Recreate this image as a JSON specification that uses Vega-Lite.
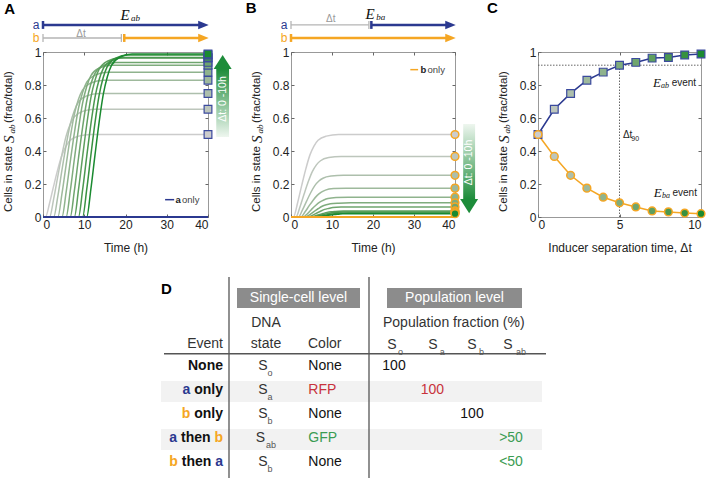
{
"$schema": "https://vega.github.io/schema/vega-lite/v6.json",
"padding": {"left": 1, "top": 0, "right": 0, "bottom": 0},
"background": "white",
"config": {
  "font": "Liberation Sans",
  "view": {"stroke": null},
  "axis": {"grid": false, "domain": false, "labelFont": "Liberation Sans", "labelFontSize": 12, "labelColor": "#222", "labelOverlap": false, "tickCount": 12, "titleFont": "Liberation Sans", "titleFontSize": 12, "titleFontWeight": "normal", "titleColor": "#222", "tickColor": "#666", "tickSize": -3, "labelPadding": 5, "titlePadding": 12},
  "text": {"font": "Liberation Sans"}
},
"datasets": {
  "curvesA": [
    {"dt":0,"x":0,"y":0},{"dt":0,"x":0.6,"y":0},{"dt":0,"x":1.6,"y":0.085},{"dt":0,"x":2.6,"y":0.19},{"dt":0,"x":3.6,"y":0.29},{"dt":0,"x":4.6,"y":0.375},{"dt":0,"x":5.6,"y":0.43},{"dt":0,"x":6.6,"y":0.465},{"dt":0,"x":8.6,"y":0.49},{"dt":0,"x":11.6,"y":0.5},{"dt":0,"x":40,"y":0.5},
    {"dt":1,"x":0,"y":0},{"dt":1,"x":1.6,"y":0},{"dt":1,"x":2.6,"y":0.111},{"dt":1,"x":3.6,"y":0.248},{"dt":1,"x":4.6,"y":0.379},{"dt":1,"x":5.6,"y":0.49},{"dt":1,"x":6.6,"y":0.562},{"dt":1,"x":7.6,"y":0.607},{"dt":1,"x":9.6,"y":0.64},{"dt":1,"x":12.6,"y":0.653},{"dt":1,"x":40,"y":0.653},
    {"dt":2,"x":0,"y":0},{"dt":2,"x":2.6,"y":0},{"dt":2,"x":3.6,"y":0.127},{"dt":2,"x":4.6,"y":0.285},{"dt":2,"x":5.6,"y":0.434},{"dt":2,"x":6.6,"y":0.562},{"dt":2,"x":7.6,"y":0.644},{"dt":2,"x":8.6,"y":0.697},{"dt":2,"x":10.6,"y":0.734},{"dt":2,"x":13.6,"y":0.749},{"dt":2,"x":40,"y":0.749},
    {"dt":3,"x":0,"y":0},{"dt":3,"x":3.6,"y":0},{"dt":3,"x":4.6,"y":0.141},{"dt":3,"x":5.6,"y":0.315},{"dt":3,"x":6.6,"y":0.481},{"dt":3,"x":7.6,"y":0.622},{"dt":3,"x":8.6,"y":0.713},{"dt":3,"x":9.6,"y":0.771},{"dt":3,"x":11.6,"y":0.812},{"dt":3,"x":14.6,"y":0.829},{"dt":3,"x":40,"y":0.829},
    {"dt":4,"x":0,"y":0},{"dt":4,"x":4.6,"y":0},{"dt":4,"x":5.6,"y":0.149},{"dt":4,"x":6.6,"y":0.334},{"dt":4,"x":7.6,"y":0.509},{"dt":4,"x":8.6,"y":0.659},{"dt":4,"x":9.6,"y":0.755},{"dt":4,"x":10.6,"y":0.817},{"dt":4,"x":12.6,"y":0.86},{"dt":4,"x":15.6,"y":0.878},{"dt":4,"x":40,"y":0.878},
    {"dt":5,"x":0,"y":0},{"dt":5,"x":5.6,"y":0},{"dt":5,"x":6.6,"y":0.156},{"dt":5,"x":7.6,"y":0.35},{"dt":5,"x":8.6,"y":0.534},{"dt":5,"x":9.6,"y":0.69},{"dt":5,"x":10.6,"y":0.791},{"dt":5,"x":11.6,"y":0.856},{"dt":5,"x":13.6,"y":0.902},{"dt":5,"x":16.6,"y":0.92},{"dt":5,"x":40,"y":0.92},
    {"dt":6,"x":0,"y":0},{"dt":6,"x":6.6,"y":0},{"dt":6,"x":7.6,"y":0.159},{"dt":6,"x":8.6,"y":0.356},{"dt":6,"x":9.6,"y":0.543},{"dt":6,"x":10.6,"y":0.703},{"dt":6,"x":11.6,"y":0.806},{"dt":6,"x":12.6,"y":0.871},{"dt":6,"x":14.6,"y":0.918},{"dt":6,"x":17.6,"y":0.937},{"dt":6,"x":40,"y":0.937},
    {"dt":7,"x":0,"y":0},{"dt":7,"x":7.6,"y":0},{"dt":7,"x":8.6,"y":0.164},{"dt":7,"x":9.6,"y":0.366},{"dt":7,"x":10.6,"y":0.559},{"dt":7,"x":11.6,"y":0.722},{"dt":7,"x":12.6,"y":0.828},{"dt":7,"x":13.6,"y":0.896},{"dt":7,"x":15.6,"y":0.944},{"dt":7,"x":18.6,"y":0.963},{"dt":7,"x":40,"y":0.963},
    {"dt":8,"x":0,"y":0},{"dt":8,"x":8.6,"y":0},{"dt":8,"x":9.6,"y":0.164},{"dt":8,"x":10.6,"y":0.367},{"dt":8,"x":11.6,"y":0.561},{"dt":8,"x":12.6,"y":0.725},{"dt":8,"x":13.6,"y":0.832},{"dt":8,"x":14.6,"y":0.899},{"dt":8,"x":16.6,"y":0.948},{"dt":8,"x":19.6,"y":0.967},{"dt":8,"x":40,"y":0.967},
    {"dt":9,"x":0,"y":0},{"dt":9,"x":9.6,"y":0},{"dt":9,"x":10.6,"y":0.167},{"dt":9,"x":11.6,"y":0.373},{"dt":9,"x":12.6,"y":0.57},{"dt":9,"x":13.6,"y":0.737},{"dt":9,"x":14.6,"y":0.845},{"dt":9,"x":15.6,"y":0.913},{"dt":9,"x":17.6,"y":0.962},{"dt":9,"x":20.6,"y":0.982},{"dt":9,"x":40,"y":0.982},
    {"dt":10,"x":0,"y":0},{"dt":10,"x":10.6,"y":0},{"dt":10,"x":11.6,"y":0.168},{"dt":10,"x":12.6,"y":0.375},{"dt":10,"x":13.6,"y":0.573},{"dt":10,"x":14.6,"y":0.741},{"dt":10,"x":15.6,"y":0.85},{"dt":10,"x":16.6,"y":0.919},{"dt":10,"x":18.6,"y":0.968},{"dt":10,"x":21.6,"y":0.988},{"dt":10,"x":40,"y":0.988}
  ],
  "curvesB": [
    {"dt":0,"x":0,"y":0},{"dt":0,"x":0.6,"y":0},{"dt":0,"x":1.6,"y":0.085},{"dt":0,"x":2.6,"y":0.19},{"dt":0,"x":3.6,"y":0.29},{"dt":0,"x":4.6,"y":0.375},{"dt":0,"x":5.6,"y":0.43},{"dt":0,"x":6.6,"y":0.465},{"dt":0,"x":8.6,"y":0.49},{"dt":0,"x":11.6,"y":0.5},{"dt":0,"x":40,"y":0.5},
    {"dt":1,"x":0,"y":0},{"dt":1,"x":1.2,"y":0},{"dt":1,"x":2.2,"y":0.062},{"dt":1,"x":3.2,"y":0.139},{"dt":1,"x":4.2,"y":0.213},{"dt":1,"x":5.2,"y":0.275},{"dt":1,"x":6.2,"y":0.316},{"dt":1,"x":7.2,"y":0.341},{"dt":1,"x":9.2,"y":0.36},{"dt":1,"x":12.2,"y":0.367},{"dt":1,"x":40,"y":0.367},
    {"dt":2,"x":0,"y":0},{"dt":2,"x":1.8,"y":0},{"dt":2,"x":2.8,"y":0.043},{"dt":2,"x":3.8,"y":0.096},{"dt":2,"x":4.8,"y":0.147},{"dt":2,"x":5.8,"y":0.19},{"dt":2,"x":6.8,"y":0.218},{"dt":2,"x":7.8,"y":0.235},{"dt":2,"x":9.8,"y":0.248},{"dt":2,"x":12.8,"y":0.253},{"dt":2,"x":40,"y":0.253},
    {"dt":3,"x":0,"y":0},{"dt":3,"x":2.4,"y":0},{"dt":3,"x":3.4,"y":0.03},{"dt":3,"x":4.4,"y":0.067},{"dt":3,"x":5.4,"y":0.102},{"dt":3,"x":6.4,"y":0.131},{"dt":3,"x":7.4,"y":0.151},{"dt":3,"x":8.4,"y":0.163},{"dt":3,"x":10.4,"y":0.172},{"dt":3,"x":13.4,"y":0.175},{"dt":3,"x":40,"y":0.175},
    {"dt":4,"x":0,"y":0},{"dt":4,"x":3,"y":0},{"dt":4,"x":4,"y":0.02},{"dt":4,"x":5,"y":0.046},{"dt":4,"x":6,"y":0.07},{"dt":4,"x":7,"y":0.09},{"dt":4,"x":8,"y":0.103},{"dt":4,"x":9,"y":0.112},{"dt":4,"x":11,"y":0.118},{"dt":4,"x":14,"y":0.12},{"dt":4,"x":40,"y":0.12},
    {"dt":5,"x":0,"y":0},{"dt":5,"x":3.6,"y":0},{"dt":5,"x":4.6,"y":0.015},{"dt":5,"x":5.6,"y":0.033},{"dt":5,"x":6.6,"y":0.05},{"dt":5,"x":7.6,"y":0.065},{"dt":5,"x":8.6,"y":0.074},{"dt":5,"x":9.6,"y":0.08},{"dt":5,"x":11.6,"y":0.084},{"dt":5,"x":14.6,"y":0.086},{"dt":5,"x":40,"y":0.086},
    {"dt":6,"x":0,"y":0},{"dt":6,"x":4.2,"y":0},{"dt":6,"x":5.2,"y":0.01},{"dt":6,"x":6.2,"y":0.023},{"dt":6,"x":7.2,"y":0.035},{"dt":6,"x":8.2,"y":0.046},{"dt":6,"x":9.2,"y":0.052},{"dt":6,"x":10.2,"y":0.057},{"dt":6,"x":12.2,"y":0.06},{"dt":6,"x":15.2,"y":0.061},{"dt":6,"x":40,"y":0.061},
    {"dt":7,"x":0,"y":0},{"dt":7,"x":4.8,"y":0},{"dt":7,"x":5.8,"y":0.006},{"dt":7,"x":6.8,"y":0.014},{"dt":7,"x":7.8,"y":0.021},{"dt":7,"x":8.8,"y":0.028},{"dt":7,"x":9.8,"y":0.032},{"dt":7,"x":10.8,"y":0.034},{"dt":7,"x":12.8,"y":0.036},{"dt":7,"x":15.8,"y":0.037},{"dt":7,"x":40,"y":0.037},
    {"dt":8,"x":0,"y":0},{"dt":8,"x":5.4,"y":0},{"dt":8,"x":6.4,"y":0.005},{"dt":8,"x":7.4,"y":0.012},{"dt":8,"x":8.4,"y":0.018},{"dt":8,"x":9.4,"y":0.023},{"dt":8,"x":10.4,"y":0.027},{"dt":8,"x":11.4,"y":0.029},{"dt":8,"x":13.4,"y":0.03},{"dt":8,"x":16.4,"y":0.031},{"dt":8,"x":40,"y":0.031},
    {"dt":9,"x":0,"y":0},{"dt":9,"x":6,"y":0},{"dt":9,"x":7,"y":0.004},{"dt":9,"x":8,"y":0.009},{"dt":9,"x":9,"y":0.014},{"dt":9,"x":10,"y":0.018},{"dt":9,"x":11,"y":0.021},{"dt":9,"x":12,"y":0.022},{"dt":9,"x":14,"y":0.0235},{"dt":9,"x":17,"y":0.024},{"dt":9,"x":40,"y":0.024},
    {"dt":10,"x":0,"y":0},{"dt":10,"x":6.6,"y":0},{"dt":10,"x":7.6,"y":0.003},{"dt":10,"x":8.6,"y":0.008},{"dt":10,"x":9.6,"y":0.012},{"dt":10,"x":10.6,"y":0.015},{"dt":10,"x":11.6,"y":0.017},{"dt":10,"x":12.6,"y":0.019},{"dt":10,"x":14.6,"y":0.0196},{"dt":10,"x":17.6,"y":0.02},{"dt":10,"x":40,"y":0.02}
  ],
  "ptsA": [{"dt":0,"y":0.5},{"dt":1,"y":0.653},{"dt":2,"y":0.749},{"dt":3,"y":0.829},{"dt":4,"y":0.878},{"dt":5,"y":0.92},{"dt":6,"y":0.937},{"dt":7,"y":0.963},{"dt":8,"y":0.967},{"dt":9,"y":0.982},{"dt":10,"y":0.988}],
  "ptsB": [{"dt":0,"y":0.5},{"dt":1,"y":0.367},{"dt":2,"y":0.253},{"dt":3,"y":0.175},{"dt":4,"y":0.12},{"dt":5,"y":0.086},{"dt":6,"y":0.061},{"dt":7,"y":0.037},{"dt":8,"y":0.031},{"dt":9,"y":0.024},{"dt":10,"y":0.02}],
  "ytitleSans": [{"y":0.03,"label":"Cells in state"},{"y":0.57,"label":"(frac/total)"}],
  "ytitleS": [{"y":0.448,"label":"S"}],
  "ytitleSub": [{"y":0.506,"label":"ab"}]
},
"vconcat": [
{
"hconcat": [
{
 "width": 165, "height": 165,
 "view": {"stroke": "#999"},
 "resolve": {"axis": {"x": "independent", "y": "independent"}},
 "layer": [
 {
 "resolve": {"scale": {"color": "independent"}},
 "layer": [
  {"data": {"name": "curvesA"}, "mark": {"type": "line", "strokeWidth": 1.5, "interpolate": "monotone"},
   "encoding": {
    "x": {"field": "x", "type": "quantitative", "scale": {"domain": [0, 40], "nice": false}, "axis": {"values": [0,10,20,30,40], "title": "Time (h)"}},
    "y": {"field": "y", "type": "quantitative", "scale": {"domain": [0, 1], "nice": false}, "axis": {"values": [0,0.2,0.4,0.6,0.8,1], "format": "~g", "title": null}},
    "color": {"field": "dt", "type": "quantitative", "scale": {"domain": [0,10], "range": ["#cccccc", "#1a8a30"]}, "legend": null}
   }},
  {"data": {"values": [{"x":0,"y":0},{"x":40,"y":0}]}, "mark": {"type":"line","color":"#2b3990","strokeWidth":2},
   "encoding": {"x":{"field":"x","type":"quantitative"},"y":{"field":"y","type":"quantitative"}}},
  {"data": {"name":"ptsA"}, "mark": {"type":"point","shape":"square","filled":true,"opacity":1,"size":60,"stroke":"#3b4a9e","strokeWidth":1.2},
   "encoding": {"x":{"datum":40,"type":"quantitative"},"y":{"field":"y","type":"quantitative"},
    "fill":{"field":"dt","type":"quantitative","scale":{"domain":[0,10],"range":["#cccccc","#1a8a30"]},"legend":null}}},
  {"data": {"values": [
     {"x":0,"x2":38,"y":1.164,"y2":1.164,"who":"a"},
     {"x":0,"x2":0,"y":1.14,"y2":1.188,"who":"a"},
     {"x":19.7,"x2":19.7,"y":1.061,"y2":1.109,"who":"b"},
     {"x":19.7,"x2":38,"y":1.085,"y2":1.085,"who":"b"}]},
   "mark": {"type":"rule","strokeWidth":2.5},
   "encoding": {"x":{"field":"x","type":"quantitative"},"x2":{"field":"x2"},"y":{"field":"y","type":"quantitative"},"y2":{"field":"y2"},
    "color":{"field":"who","type":"nominal","scale":{"domain":["a","b"],"range":["#2b3990","#f5a623"]},"legend":null}}},
  {"data": {"values": [
     {"x":0,"x2":19,"y":1.085,"y2":1.085},
     {"x":0,"x2":0,"y":1.061,"y2":1.109},
     {"x":19,"x2":19,"y":1.061,"y2":1.109}]},
   "mark": {"type":"rule","strokeWidth":1.3,"color":"#b5b5b5"},
   "encoding": {"x":{"field":"x","type":"quantitative"},"x2":{"field":"x2"},"y":{"field":"y","type":"quantitative"},"y2":{"field":"y2"}}},
  {"data": {"values": [{"x":38.9,"y":1.164,"who":"a"},{"x":38.9,"y":1.085,"who":"b"}]},
   "mark": {"type":"point","shape":"M-1,-0.8L1,0L-1,0.8Z","filled":true,"opacity":1,"size":110},
   "encoding": {"x":{"field":"x","type":"quantitative"},"y":{"field":"y","type":"quantitative"},
    "color":{"field":"who","type":"nominal","scale":{"domain":["a","b"],"range":["#2b3990","#f5a623"]},"legend":null}}},
  {"data": {"values": [{"x":-1.7,"y":1.164,"label":"a","who":"a"},{"x":-1.7,"y":1.085,"label":"b","who":"b"}]},
   "mark": {"type":"text","fontSize":12,"align":"center","baseline":"middle"},
   "encoding": {"x":{"field":"x","type":"quantitative"},"y":{"field":"y","type":"quantitative"},"text":{"field":"label"},
    "color":{"field":"who","type":"nominal","scale":{"domain":["a","b"],"range":["#2b3990","#f5a623"]},"legend":null}}},
  {"data": {"values": [{"x":9.2,"y":1.112,"label":"Δt"}]},
   "mark": {"type":"text","fontSize":10,"color":"#999","baseline":"middle"},
   "encoding": {"x":{"field":"x","type":"quantitative"},"y":{"field":"y","type":"quantitative"},"text":{"field":"label"}}},
  {"data": {"values": [{"x":19.9,"y":1.226,"label":"E"}]},
   "mark": {"type":"text","font":"Liberation Serif","fontStyle":"italic","fontSize":15,"color":"#111","baseline":"middle"},
   "encoding": {"x":{"field":"x","type":"quantitative"},"y":{"field":"y","type":"quantitative"},"text":{"field":"label"}}},
  {"data": {"values": [{"x":22.4,"y":1.207,"label":"ab"}]},
   "mark": {"type":"text","font":"Liberation Serif","fontStyle":"italic","fontSize":9,"color":"#111","baseline":"middle"},
   "encoding": {"x":{"field":"x","type":"quantitative"},"y":{"field":"y","type":"quantitative"},"text":{"field":"label"}}},
  {"data": {"values": [{"x":-8.1,"y":1.26,"label":"A"}]},
   "mark": {"type":"text","fontSize":15,"fontWeight":"bold","color":"#000","baseline":"middle"},
   "encoding": {"x":{"field":"x","type":"quantitative"},"y":{"field":"y","type":"quantitative"},"text":{"field":"label"}}},
  {"data": {"values": [{"x":29.6,"x2":31.8,"y":0.105}]},
   "mark": {"type":"rule","strokeWidth":1.5,"color":"#2b3990"},
   "encoding": {"x":{"field":"x","type":"quantitative"},"x2":{"field":"x2"},"y":{"field":"y","type":"quantitative"}}},
  {"data": {"values": [{"x":32.1,"y":0.105,"label":"a"}]},
   "mark": {"type":"text","fontSize":9.5,"fontWeight":"bold","color":"#222","align":"left","baseline":"middle"},
   "encoding": {"x":{"field":"x","type":"quantitative"},"y":{"field":"y","type":"quantitative"},"text":{"field":"label"}}},
  {"data": {"values": [{"x":33.7,"y":0.105,"label":"only"}]},
   "mark": {"type":"text","fontSize":9.5,"color":"#444","align":"left","baseline":"middle"},
   "encoding": {"x":{"field":"x","type":"quantitative"},"y":{"field":"y","type":"quantitative"},"text":{"field":"label"}}},
  {"data": {"values": [{"x":42.0,"x2":45.1,"y":0.485,"y2":0.897}]},
   "mark": {"type":"rect","fill":{"gradient":"linear","x1":0,"y1":1,"x2":0,"y2":0,"stops":[{"offset":0,"color":"#eef6ef"},{"offset":1,"color":"#1d8c3a"}]}},
   "encoding": {"x":{"field":"x","type":"quantitative"},"x2":{"field":"x2"},"y":{"field":"y","type":"quantitative"},"y2":{"field":"y2"}}},
  {"data": {"values": [{"x":43.55,"y":0.939}]},
   "mark": {"type":"point","shape":"M-1,0.78L0,-0.78L1,0.78Z","filled":true,"opacity":1,"size":324,"color":"#1d8c3a"},
   "encoding": {"x":{"field":"x","type":"quantitative"},"y":{"field":"y","type":"quantitative"}}},
  {"data": {"values": [{"x":43.55,"y":0.715,"label":"Δt: 0 -10h"}]},
   "mark": {"type":"text","angle":270,"fontSize":10.5,"color":"#ffffff","align":"center","baseline":"middle"},
   "encoding": {"x":{"field":"x","type":"quantitative"},"y":{"field":"y","type":"quantitative"},"text":{"field":"label"}}},
  {"data": {"name":"ytitleSans"},
   "mark": {"type":"text","angle":270,"fontSize":11.5,"color":"#222","align":"left","baseline":"middle"},
   "encoding": {"x":{"datum":-8.2,"type":"quantitative"},"y":{"field":"y","type":"quantitative"},"text":{"field":"label"}}},
  {"data": {"name":"ytitleS"},
   "mark": {"type":"text","angle":270,"font":"Liberation Serif","fontStyle":"italic","fontSize":15,"color":"#222","align":"left","baseline":"middle"},
   "encoding": {"x":{"datum":-8.2,"type":"quantitative"},"y":{"field":"y","type":"quantitative"},"text":{"field":"label"}}},
  {"data": {"name":"ytitleSub"},
   "mark": {"type":"text","angle":270,"font":"Liberation Serif","fontStyle":"italic","fontSize":9,"color":"#222","align":"left","baseline":"middle","dy":3},
   "encoding": {"x":{"datum":-8.2,"type":"quantitative"},"y":{"field":"y","type":"quantitative"},"text":{"field":"label"}}}
 ]
 },
 {"data": {"name":"ptsA"}, "mark": {"type":"point","opacity":0},
  "encoding": {"x":{"datum":40,"type":"quantitative","axis":{"orient":"top","labels":false,"title":null,"values":[0,10,20,30,40]}},
   "y":{"field":"y","type":"quantitative","axis":{"orient":"right","labels":false,"title":null,"values":[0,0.2,0.4,0.6,0.8,1]}}}}
 ]
},
{
 "width": 164, "height": 165,
 "view": {"stroke": "#999"},
 "resolve": {"axis": {"x": "independent", "y": "independent"}},
 "layer": [
 {
 "resolve": {"scale": {"color": "independent"}},
 "layer": [
  {"data": {"name": "curvesB"}, "mark": {"type": "line", "strokeWidth": 1.5, "interpolate": "monotone"},
   "encoding": {
    "x": {"field": "x", "type": "quantitative", "scale": {"domain": [0, 40], "nice": false}, "axis": {"values": [0,10,20,30,40], "title": "Time (h)"}},
    "y": {"field": "y", "type": "quantitative", "scale": {"domain": [0, 1], "nice": false}, "axis": {"values": [0,0.2,0.4,0.6,0.8,1], "format": "~g", "title": null}},
    "color": {"field": "dt", "type": "quantitative", "scale": {"domain": [0,10], "range": ["#cccccc", "#1a8a30"]}, "legend": null}
   }},
  {"data": {"values": [{"x":0,"y":0},{"x":40,"y":0}]}, "mark": {"type":"line","color":"#f5a623","strokeWidth":2},
   "encoding": {"x":{"field":"x","type":"quantitative"},"y":{"field":"y","type":"quantitative"}}},
  {"data": {"name":"ptsB"}, "mark": {"type":"point","shape":"circle","filled":true,"opacity":1,"size":60,"stroke":"#f5a623","strokeWidth":1.5},
   "encoding": {"x":{"datum":40,"type":"quantitative"},"y":{"field":"y","type":"quantitative"},
    "fill":{"field":"dt","type":"quantitative","scale":{"domain":[0,10],"range":["#cccccc","#1a8a30"]},"legend":null}}},
  {"data": {"values": [
     {"x":19.6,"x2":19.6,"y":1.14,"y2":1.188,"who":"a"},
     {"x":19.6,"x2":38,"y":1.164,"y2":1.164,"who":"a"},
     {"x":0,"x2":0,"y":1.061,"y2":1.109,"who":"b"},
     {"x":0,"x2":38,"y":1.085,"y2":1.085,"who":"b"}]},
   "mark": {"type":"rule","strokeWidth":2.5},
   "encoding": {"x":{"field":"x","type":"quantitative"},"x2":{"field":"x2"},"y":{"field":"y","type":"quantitative"},"y2":{"field":"y2"},
    "color":{"field":"who","type":"nominal","scale":{"domain":["a","b"],"range":["#2b3990","#f5a623"]},"legend":null}}},
  {"data": {"values": [
     {"x":0,"x2":19,"y":1.164,"y2":1.164},
     {"x":0,"x2":0,"y":1.14,"y2":1.188},
     {"x":19,"x2":19,"y":1.14,"y2":1.188}]},
   "mark": {"type":"rule","strokeWidth":1.3,"color":"#b5b5b5"},
   "encoding": {"x":{"field":"x","type":"quantitative"},"x2":{"field":"x2"},"y":{"field":"y","type":"quantitative"},"y2":{"field":"y2"}}},
  {"data": {"values": [{"x":38.9,"y":1.164,"who":"a"},{"x":38.9,"y":1.085,"who":"b"}]},
   "mark": {"type":"point","shape":"M-1,-0.8L1,0L-1,0.8Z","filled":true,"opacity":1,"size":110},
   "encoding": {"x":{"field":"x","type":"quantitative"},"y":{"field":"y","type":"quantitative"},
    "color":{"field":"who","type":"nominal","scale":{"domain":["a","b"],"range":["#2b3990","#f5a623"]},"legend":null}}},
  {"data": {"values": [{"x":-1.7,"y":1.164,"label":"a","who":"a"},{"x":-1.7,"y":1.085,"label":"b","who":"b"}]},
   "mark": {"type":"text","fontSize":12,"align":"center","baseline":"middle"},
   "encoding": {"x":{"field":"x","type":"quantitative"},"y":{"field":"y","type":"quantitative"},"text":{"field":"label"},
    "color":{"field":"who","type":"nominal","scale":{"domain":["a","b"],"range":["#2b3990","#f5a623"]},"legend":null}}},
  {"data": {"values": [{"x":9.7,"y":1.197,"label":"Δt"}]},
   "mark": {"type":"text","fontSize":10,"color":"#999","baseline":"middle"},
   "encoding": {"x":{"field":"x","type":"quantitative"},"y":{"field":"y","type":"quantitative"},"text":{"field":"label"}}},
  {"data": {"values": [{"x":19.3,"y":1.232,"label":"E"}]},
   "mark": {"type":"text","font":"Liberation Serif","fontStyle":"italic","fontSize":15,"color":"#111","baseline":"middle"},
   "encoding": {"x":{"field":"x","type":"quantitative"},"y":{"field":"y","type":"quantitative"},"text":{"field":"label"}}},
  {"data": {"values": [{"x":21.9,"y":1.213,"label":"ba"}]},
   "mark": {"type":"text","font":"Liberation Serif","fontStyle":"italic","fontSize":9,"color":"#111","baseline":"middle"},
   "encoding": {"x":{"field":"x","type":"quantitative"},"y":{"field":"y","type":"quantitative"},"text":{"field":"label"}}},
  {"data": {"values": [{"x":-9.7,"y":1.265,"label":"B"}]},
   "mark": {"type":"text","fontSize":15,"fontWeight":"bold","color":"#000","baseline":"middle"},
   "encoding": {"x":{"field":"x","type":"quantitative"},"y":{"field":"y","type":"quantitative"},"text":{"field":"label"}}},
  {"data": {"values": [{"x":29.1,"x2":31.0,"y":0.893}]},
   "mark": {"type":"rule","strokeWidth":1.5,"color":"#f5a623"},
   "encoding": {"x":{"field":"x","type":"quantitative"},"x2":{"field":"x2"},"y":{"field":"y","type":"quantitative"}}},
  {"data": {"values": [{"x":31.6,"y":0.893,"label":"b"}]},
   "mark": {"type":"text","fontSize":9.5,"fontWeight":"bold","color":"#222","align":"left","baseline":"middle"},
   "encoding": {"x":{"field":"x","type":"quantitative"},"y":{"field":"y","type":"quantitative"},"text":{"field":"label"}}},
  {"data": {"values": [{"x":33.3,"y":0.893,"label":"only"}]},
   "mark": {"type":"text","fontSize":9.5,"color":"#444","align":"left","baseline":"middle"},
   "encoding": {"x":{"field":"x","type":"quantitative"},"y":{"field":"y","type":"quantitative"},"text":{"field":"label"}}},
  {"data": {"values": [{"x":42.0,"x2":44.9,"y":0.109,"y2":0.564}]},
   "mark": {"type":"rect","fill":{"gradient":"linear","x1":0,"y1":0,"x2":0,"y2":1,"stops":[{"offset":0,"color":"#eef6ef"},{"offset":1,"color":"#1d8c3a"}]}},
   "encoding": {"x":{"field":"x","type":"quantitative"},"x2":{"field":"x2"},"y":{"field":"y","type":"quantitative"},"y2":{"field":"y2"}}},
  {"data": {"values": [{"x":43.45,"y":0.066}]},
   "mark": {"type":"point","shape":"M-1,-0.78L1,-0.78L0,0.78Z","filled":true,"opacity":1,"size":324,"color":"#1d8c3a"},
   "encoding": {"x":{"field":"x","type":"quantitative"},"y":{"field":"y","type":"quantitative"}}},
  {"data": {"values": [{"x":43.45,"y":0.33,"label":"Δt: 0 -10h"}]},
   "mark": {"type":"text","angle":270,"fontSize":10.5,"color":"#ffffff","align":"center","baseline":"middle"},
   "encoding": {"x":{"field":"x","type":"quantitative"},"y":{"field":"y","type":"quantitative"},"text":{"field":"label"}}},
  {"data": {"name":"ytitleSans"},
   "mark": {"type":"text","angle":270,"fontSize":11.5,"color":"#222","align":"left","baseline":"middle"},
   "encoding": {"x":{"datum":-8.2,"type":"quantitative"},"y":{"field":"y","type":"quantitative"},"text":{"field":"label"}}},
  {"data": {"name":"ytitleS"},
   "mark": {"type":"text","angle":270,"font":"Liberation Serif","fontStyle":"italic","fontSize":15,"color":"#222","align":"left","baseline":"middle"},
   "encoding": {"x":{"datum":-8.2,"type":"quantitative"},"y":{"field":"y","type":"quantitative"},"text":{"field":"label"}}},
  {"data": {"name":"ytitleSub"},
   "mark": {"type":"text","angle":270,"font":"Liberation Serif","fontStyle":"italic","fontSize":9,"color":"#222","align":"left","baseline":"middle","dy":3},
   "encoding": {"x":{"datum":-8.2,"type":"quantitative"},"y":{"field":"y","type":"quantitative"},"text":{"field":"label"}}}
 ]
 },
 {"data": {"name":"ptsB"}, "mark": {"type":"point","opacity":0},
  "encoding": {"x":{"datum":40,"type":"quantitative","axis":{"orient":"top","labels":false,"title":null,"values":[0,10,20,30,40]}},
   "y":{"field":"y","type":"quantitative","axis":{"orient":"right","labels":false,"title":null,"values":[0,0.2,0.4,0.6,0.8,1]}}}}
 ]
},
{
 "width": 163, "height": 165,
 "view": {"stroke": "#999"},
 "resolve": {"axis": {"x": "independent", "y": "independent"}},
 "layer": [
 {
 "layer": [
  {"data": {"values": [{"x":0,"x2":10,"y":0.92,"y2":0.92},{"x":5,"x2":5,"y":0,"y2":0.92}]},
   "mark": {"type":"rule","strokeDash":[1.5,1.5],"color":"#555","strokeWidth":0.9},
   "encoding": {
    "x": {"field": "x", "type": "quantitative", "scale": {"domain": [0, 10], "nice": false}, "axis": {"values": [0,5,10], "title": "Inducer separation time, Δt"}},
    "x2": {"field": "x2"},
    "y": {"field": "y", "type": "quantitative", "scale": {"domain": [0, 1], "nice": false}, "axis": {"values": [0,0.2,0.4,0.6,0.8,1], "format": "~g", "title": null}},
    "y2": {"field": "y2"}
   }},
  {"data": {"name":"ptsA"}, "mark": {"type":"line","color":"#2b3990","strokeWidth":1.5},
   "encoding": {"x":{"field":"dt","type":"quantitative"},"y":{"field":"y","type":"quantitative"}}},
  {"data": {"name":"ptsB"}, "mark": {"type":"line","color":"#f5a623","strokeWidth":1.5},
   "encoding": {"x":{"field":"dt","type":"quantitative"},"y":{"field":"y","type":"quantitative"}}},
  {"data": {"name":"ptsA"}, "mark": {"type":"point","shape":"square","filled":true,"opacity":1,"size":60,"stroke":"#3b4a9e","strokeWidth":1.2},
   "encoding": {"x":{"field":"dt","type":"quantitative"},"y":{"field":"y","type":"quantitative"},
    "fill":{"field":"dt","type":"quantitative","scale":{"domain":[0,10],"range":["#cccccc","#1a8a30"]},"legend":null}}},
  {"data": {"name":"ptsB"}, "mark": {"type":"point","shape":"circle","filled":true,"opacity":1,"size":60,"stroke":"#f5a623","strokeWidth":1.5},
   "encoding": {"x":{"field":"dt","type":"quantitative"},"y":{"field":"y","type":"quantitative"},
    "fill":{"field":"dt","type":"quantitative","scale":{"domain":[0,10],"range":["#cccccc","#1a8a30"]},"legend":null}}},
  {"data": {"values": [{"x":7.3,"y":0.814,"label":"E"},{"x":7.35,"y":0.148,"label":"E"}]},
   "mark": {"type":"text","font":"Liberation Serif","fontStyle":"italic","fontSize":13,"color":"#111","baseline":"middle"},
   "encoding": {"x":{"field":"x","type":"quantitative"},"y":{"field":"y","type":"quantitative"},"text":{"field":"label"}}},
  {"data": {"values": [{"x":7.55,"y":0.794,"label":"ab"},{"x":7.6,"y":0.128,"label":"ba"}]},
   "mark": {"type":"text","font":"Liberation Serif","fontStyle":"italic","fontSize":8,"color":"#111","align":"left","baseline":"middle"},
   "encoding": {"x":{"field":"x","type":"quantitative"},"y":{"field":"y","type":"quantitative"},"text":{"field":"label"}}},
  {"data": {"values": [{"x":8.2,"y":0.81,"label":"event"},{"x":8.25,"y":0.144,"label":"event"}]},
   "mark": {"type":"text","fontSize":10,"color":"#222","align":"left","baseline":"middle"},
   "encoding": {"x":{"field":"x","type":"quantitative"},"y":{"field":"y","type":"quantitative"},"text":{"field":"label"}}},
  {"data": {"values": [{"x":5.21,"y":0.497,"label":"Δt"}]},
   "mark": {"type":"text","fontSize":10,"color":"#222","align":"left","baseline":"middle"},
   "encoding": {"x":{"field":"x","type":"quantitative"},"y":{"field":"y","type":"quantitative"},"text":{"field":"label"}}},
  {"data": {"values": [{"x":5.72,"y":0.475,"label":"90"}]},
   "mark": {"type":"text","fontSize":7,"color":"#222","align":"left","baseline":"middle"},
   "encoding": {"x":{"field":"x","type":"quantitative"},"y":{"field":"y","type":"quantitative"},"text":{"field":"label"}}},
  {"data": {"values": [{"x":-2.8,"y":1.265,"label":"C"}]},
   "mark": {"type":"text","fontSize":15,"fontWeight":"bold","color":"#000","baseline":"middle"},
   "encoding": {"x":{"field":"x","type":"quantitative"},"y":{"field":"y","type":"quantitative"},"text":{"field":"label"}}},
  {"data": {"name":"ytitleSans"},
   "mark": {"type":"text","angle":270,"fontSize":11.5,"color":"#222","align":"left","baseline":"middle"},
   "encoding": {"x":{"datum":-2.06,"type":"quantitative"},"y":{"field":"y","type":"quantitative"},"text":{"field":"label"}}},
  {"data": {"name":"ytitleS"},
   "mark": {"type":"text","angle":270,"font":"Liberation Serif","fontStyle":"italic","fontSize":15,"color":"#222","align":"left","baseline":"middle"},
   "encoding": {"x":{"datum":-2.06,"type":"quantitative"},"y":{"field":"y","type":"quantitative"},"text":{"field":"label"}}},
  {"data": {"name":"ytitleSub"},
   "mark": {"type":"text","angle":270,"font":"Liberation Serif","fontStyle":"italic","fontSize":9,"color":"#222","align":"left","baseline":"middle","dy":3},
   "encoding": {"x":{"datum":-2.06,"type":"quantitative"},"y":{"field":"y","type":"quantitative"},"text":{"field":"label"}}}
 ]
 },
 {"data": {"name":"ptsB"}, "mark": {"type":"point","opacity":0},
  "encoding": {"x":{"field":"dt","type":"quantitative","axis":{"orient":"top","labels":false,"title":null,"values":[0,5,10]}},
   "y":{"field":"y","type":"quantitative","axis":{"orient":"right","labels":false,"title":null,"values":[0,0.2,0.4,0.6,0.8,1]}}}}
 ]
}
],
"spacing": 83,
"bounds": "flush"
},
{
 "width": 660, "height": 203,
 "layer": [
  {"data": {"values": [{"x":0,"x2":66,"y":0,"y2":8.4583}]},
   "mark": {"type":"rect","fill":"#ffffff"},
   "encoding": {"x":{"field":"x","type":"quantitative","scale":{"domain":[0,66],"nice":false,"zero":false},"axis":null},"x2":{"field":"x2"},
    "y":{"field":"y","type":"quantitative","scale":{"domain":[0,8.4583],"nice":false,"zero":false,"reverse":true},"axis":null},"y2":{"field":"y2"}}},
  {"data": {"values": [{"x":11.8,"x2":49.9,"y":4.375,"y2":5.25},{"x":11.8,"x2":49.9,"y":6.375,"y2":7.25}]},
   "mark": {"type":"rect","fill":"#f2f2f2"},
   "encoding": {"x":{"field":"x","type":"quantitative"},"x2":{"field":"x2"},"y":{"field":"y","type":"quantitative"},"y2":{"field":"y2"}}},
  {"data": {"values": [{"x":19.4,"x2":31.7,"y":0.5,"y2":1.333},{"x":34.4,"x2":47.9,"y":0.5,"y2":1.333}]},
   "mark": {"type":"rect","fill":"#8c8c8c"},
   "encoding": {"x":{"field":"x","type":"quantitative"},"x2":{"field":"x2"},"y":{"field":"y","type":"quantitative"},"y2":{"field":"y2"}}},
  {"data": {"values": [{"x":25.55,"y":0.92,"label":"Single-cell level"},{"x":41.15,"y":0.92,"label":"Population level"}]},
   "mark": {"type":"text","fontSize":14,"color":"#ffffff","align":"center","baseline":"middle"},
   "encoding": {"x":{"field":"x","type":"quantitative"},"y":{"field":"y","type":"quantitative"},"text":{"field":"label"}}},
  {"data": {"values": [{"x":18.6,"x2":18.6,"y":0.04,"y2":8.45},{"x":32.6,"x2":32.6,"y":0.04,"y2":8.45},{"x":12.1,"x2":50.3,"y":3.24,"y2":3.24}]},
   "mark": {"type":"rule","color":"#555","strokeWidth":1.3},
   "encoding": {"x":{"field":"x","type":"quantitative"},"x2":{"field":"x2"},"y":{"field":"y","type":"quantitative"},"y2":{"field":"y2"}}},
  {"data": {"values": [{"x":12.35,"y":0.54,"label":"D"}]},
   "mark": {"type":"text","fontSize":15,"fontWeight":"bold","color":"#000","align":"center","baseline":"middle"},
   "encoding": {"x":{"field":"x","type":"quantitative"},"y":{"field":"y","type":"quantitative"},"text":{"field":"label"}}},
  {"data": {"values": [{"x":22.3,"y":1.96,"label":"DNA"},{"x":22.3,"y":2.83,"label":"state"}]},
   "mark": {"type":"text","fontSize":14,"color":"#333","align":"center","baseline":"middle"},
   "encoding": {"x":{"field":"x","type":"quantitative"},"y":{"field":"y","type":"quantitative"},"text":{"field":"label"}}},
  {"data": {"values": [{"x":18.0,"y":2.83,"label":"Event"}]},
   "mark": {"type":"text","fontSize":14,"color":"#333","align":"right","baseline":"middle"},
   "encoding": {"x":{"field":"x","type":"quantitative"},"y":{"field":"y","type":"quantitative"},"text":{"field":"label"}}},
  {"data": {"values": [{"x":26.5,"y":2.83,"label":"Color"},{"x":34.0,"y":1.96,"label":"Population fraction (%)"}]},
   "mark": {"type":"text","fontSize":14,"color":"#333","align":"left","baseline":"middle"},
   "encoding": {"x":{"field":"x","type":"quantitative"},"y":{"field":"y","type":"quantitative"},"text":{"field":"label"}}},
  {"data": {"values": [
     {"x":34.9,"y":2.875,"label":"S"},{"x":39.0,"y":2.875,"label":"S"},{"x":42.9,"y":2.875,"label":"S"},{"x":46.5,"y":2.875,"label":"S"},
     {"x":22.0,"y":3.77,"label":"S"},{"x":22.0,"y":4.75,"label":"S"},{"x":22.0,"y":5.75,"label":"S"},{"x":21.75,"y":6.75,"label":"S"},{"x":22.0,"y":7.75,"label":"S"}]},
   "mark": {"type":"text","fontSize":14,"color":"#333","align":"center","baseline":"middle"},
   "encoding": {"x":{"field":"x","type":"quantitative"},"y":{"field":"y","type":"quantitative"},"text":{"field":"label"}}},
  {"data": {"values": [
     {"x":35.5,"y":3.15,"label":"o"},{"x":39.67,"y":3.15,"label":"a"},{"x":43.6,"y":3.15,"label":"b"},{"x":47.3,"y":3.15,"label":"ab"},
     {"x":22.45,"y":4.06,"label":"o"},{"x":22.45,"y":5.04,"label":"a"},{"x":22.45,"y":6.04,"label":"b"},{"x":22.3,"y":7.04,"label":"ab"},{"x":22.45,"y":8.04,"label":"b"}]},
   "mark": {"type":"text","fontSize":9,"color":"#555","align":"left","baseline":"middle"},
   "encoding": {"x":{"field":"x","type":"quantitative"},"y":{"field":"y","type":"quantitative"},"text":{"field":"label"}}},
  {"data": {"values": [
     {"x":18.0,"y":3.77,"label":"None","who":"k"},
     {"x":18.0,"y":4.75,"label":"only","who":"k"},{"x":14.73,"y":4.75,"label":"a","who":"a"},
     {"x":18.0,"y":5.75,"label":"only","who":"k"},{"x":14.73,"y":5.75,"label":"b","who":"b"},
     {"x":18.0,"y":6.75,"label":"b","who":"b"},{"x":16.755,"y":6.75,"label":"then","who":"k"},{"x":13.405,"y":6.75,"label":"a","who":"a"},
     {"x":18.0,"y":7.75,"label":"a","who":"a"},{"x":16.83,"y":7.75,"label":"then","who":"k"},{"x":13.48,"y":7.75,"label":"b","who":"b"}]},
   "mark": {"type":"text","fontSize":14,"fontWeight":"bold","align":"right","baseline":"middle"},
   "encoding": {"x":{"field":"x","type":"quantitative"},"y":{"field":"y","type":"quantitative"},"text":{"field":"label"},
    "color":{"field":"who","type":"nominal","scale":{"domain":["a","b","k","r","g"],"range":["#2b3990","#f5a623","#111111","#c8323c","#3a9c52"]},"legend":null}}},
  {"data": {"values": [
     {"x":26.53,"y":3.77,"label":"None","who":"k"},{"x":26.53,"y":4.75,"label":"RFP","who":"r"},{"x":26.53,"y":5.75,"label":"None","who":"k"},{"x":26.53,"y":6.75,"label":"GFP","who":"g"},{"x":26.53,"y":7.75,"label":"None","who":"k"}]},
   "mark": {"type":"text","fontSize":14,"align":"left","baseline":"middle"},
   "encoding": {"x":{"field":"x","type":"quantitative"},"y":{"field":"y","type":"quantitative"},"text":{"field":"label"},
    "color":{"field":"who","type":"nominal","legend":null}}},
  {"data": {"values": [
     {"x":35.1,"y":3.77,"label":"100","who":"k"},{"x":38.93,"y":4.75,"label":"100","who":"r"},{"x":42.9,"y":5.75,"label":"100","who":"k"},{"x":46.8,"y":6.75,"label":">50","who":"g"},{"x":46.8,"y":7.75,"label":"<50","who":"g"}]},
   "mark": {"type":"text","fontSize":14,"align":"center","baseline":"middle"},
   "encoding": {"x":{"field":"x","type":"quantitative"},"y":{"field":"y","type":"quantitative"},"text":{"field":"label"},
    "color":{"field":"who","type":"nominal","legend":null}}}
 ]
}
],
"spacing": 22
}
